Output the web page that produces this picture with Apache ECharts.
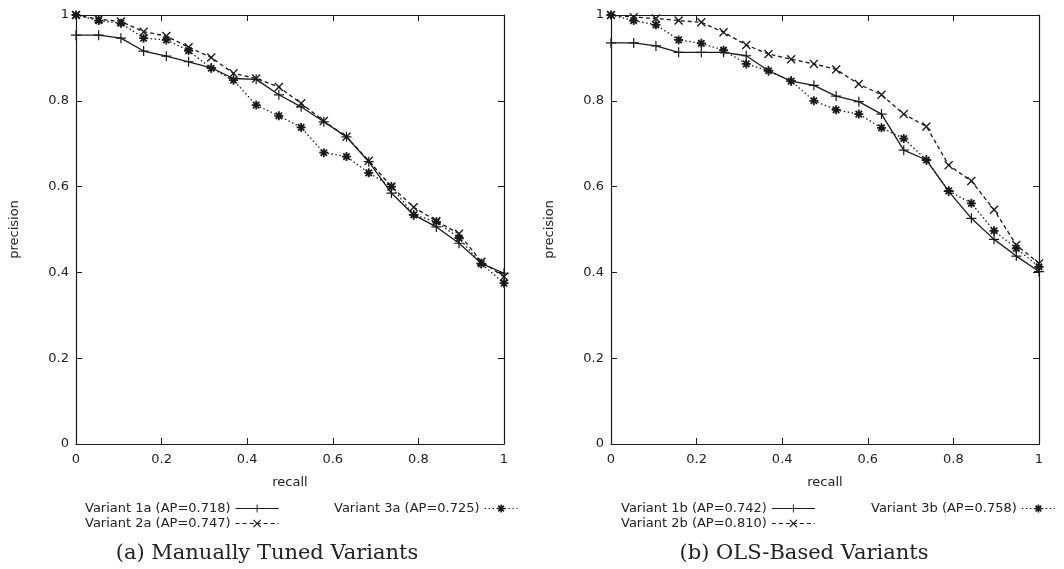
<!DOCTYPE html>
<html>
<head>
<meta charset="utf-8">
<script src="https://cdn.jsdelivr.net/npm/echarts@6/dist/echarts.min.js"></script>
<style>
html,body{margin:0;padding:0;background:#fff;}
#chart{width:1064px;height:569px;}
</style>
</head>
<body>
<div id="chart"></div>
<script>
// recall levels (20 points)
const recall = [0, 0.053, 0.105, 0.158, 0.211, 0.263, 0.316, 0.368, 0.421, 0.474,
                0.526, 0.579, 0.632, 0.684, 0.737, 0.789, 0.842, 0.895, 0.947, 1];

// (a) Manually tuned variants
const v1a = [0.953, 0.953, 0.946, 0.916, 0.904, 0.891, 0.877, 0.852, 0.850, 0.814,
             0.786, 0.751, 0.716, 0.658, 0.585, 0.534, 0.506, 0.468, 0.421, 0.398];
const v2a = [1.000, 0.990, 0.985, 0.961, 0.951, 0.925, 0.901, 0.864, 0.852, 0.832,
             0.794, 0.753, 0.716, 0.660, 0.600, 0.552, 0.520, 0.490, 0.425, 0.390];
const v3a = [1.000, 0.987, 0.981, 0.946, 0.942, 0.917, 0.876, 0.848, 0.790, 0.765,
             0.738, 0.679, 0.670, 0.632, 0.600, 0.534, 0.518, 0.480, 0.420, 0.375];

// (b) OLS-based variants
const v1b = [0.935, 0.935, 0.928, 0.913, 0.913, 0.913, 0.905, 0.870, 0.846, 0.836,
             0.811, 0.798, 0.769, 0.685, 0.662, 0.589, 0.526, 0.477, 0.438, 0.402];
const v2b = [1.000, 0.995, 0.992, 0.987, 0.983, 0.960, 0.930, 0.909, 0.897, 0.886,
             0.873, 0.839, 0.814, 0.769, 0.740, 0.650, 0.613, 0.546, 0.464, 0.421];
const v3b = [1.000, 0.987, 0.977, 0.942, 0.934, 0.918, 0.886, 0.870, 0.846, 0.800,
             0.779, 0.769, 0.737, 0.712, 0.662, 0.590, 0.561, 0.497, 0.456, 0.413];

const names = {
  v1a: 'Variant 1a (AP=0.718)', v2a: 'Variant 2a (AP=0.747)', v3a: 'Variant 3a (AP=0.725)',
  v1b: 'Variant 1b (AP=0.742)', v2b: 'Variant 2b (AP=0.810)', v3b: 'Variant 3b (AP=0.758)'
};
const captions = ['(a) Manually Tuned Variants', '(b) OLS-Based Variants'];

const PLUS = 'path://M-1.2,-10L1.2,-10L1.2,-1.2L10,-1.2L10,1.2L1.2,1.2L1.2,10L-1.2,10L-1.2,1.2L-10,1.2L-10,-1.2L-1.2,-1.2Z';
const CROSS = 'path://M-6.22,-7.92L-7.92,-6.22L-1.7,0L-7.92,6.22L-6.22,7.92L0,1.7L6.22,7.92L7.92,6.22L1.7,0L7.92,-6.22L6.22,-7.92L0,-1.7Z';
const STAR = 'path://M-2,-10L2,-10L2,-2L10,-2L10,2L2,2L2,10L-2,10L-2,2L-10,2L-10,-2L-2,-2Z M5.66,-8.49L8.49,-5.66L2.83,0L8.49,5.66L5.66,8.49L0,2.83L-5.66,8.49L-8.49,5.66L-2.83,0L-8.49,-5.66L-5.66,-8.49L0,-2.83Z';

const INK = '#1a1a1a';
const FONT = 'DejaVu Sans';

function pairs(vals) { return recall.map((r, i) => [r, vals[i]]); }

function mkSeries(name, vals, gi, kind) {
  const styles = {
    solid: { sym: PLUS, size: 10, type: 'solid' },
    dash: { sym: CROSS, size: 9, type: [4, 3] },
    dot: { sym: STAR, size: 9, type: [1.5, 2.5] }
  };
  const s = styles[kind];
  return {
    name: name, type: 'line', xAxisIndex: gi * 2, yAxisIndex: gi * 2,
    data: pairs(vals), symbol: s.sym, symbolSize: s.size, showSymbol: true,
    lineStyle: { color: INK, width: 1.3, type: s.type },
    itemStyle: { color: INK },
    animation: false, z: 3
  };
}

const gridLefts = [76, 611];
const grids = gridLefts.map(l => ({ left: l, top: 15, width: 428, height: 429, show: false }));

const AXLINE = { show: true, onZero: false, lineStyle: { color: INK, width: 1.2 } };
const TICK = { show: true, inside: true, length: 6, lineStyle: { color: INK } };
const xAxes = [], yAxes = [];
gridLefts.forEach((l, gi) => {
  xAxes.push({
    type: 'value', gridIndex: gi, min: 0, max: 1, interval: 0.2, position: 'bottom',
    name: 'recall', nameLocation: 'middle', nameGap: 32,
    nameTextStyle: { fontFamily: FONT, fontSize: 13, color: '#222' },
    axisLine: AXLINE, axisTick: TICK,
    axisLabel: { fontFamily: FONT, fontSize: 13, color: '#222', margin: 9 },
    splitLine: { show: false }
  });
  xAxes.push({
    type: 'value', gridIndex: gi, min: 0, max: 1, interval: 0.2, position: 'top',
    axisLine: AXLINE, axisTick: TICK,
    axisLabel: { show: false }, splitLine: { show: false }
  });
  yAxes.push({
    type: 'value', gridIndex: gi, min: 0, max: 1, interval: 0.2, position: 'left',
    name: 'precision', nameLocation: 'middle', nameGap: 55,
    nameTextStyle: { fontFamily: FONT, fontSize: 13, color: '#222' },
    axisLine: AXLINE, axisTick: TICK,
    axisLabel: { fontFamily: FONT, fontSize: 13, color: '#222', margin: 7 },
    splitLine: { show: false }
  });
  yAxes.push({
    type: 'value', gridIndex: gi, min: 0, max: 1, interval: 0.2, position: 'right',
    axisLine: AXLINE, axisTick: TICK,
    axisLabel: { show: false }, splitLine: { show: false }
  });
});

const series = [
  mkSeries(names.v1a, v1a, 0, 'solid'),
  mkSeries(names.v2a, v2a, 0, 'dash'),
  mkSeries(names.v3a, v3a, 0, 'dot'),
  mkSeries(names.v1b, v1b, 1, 'solid'),
  mkSeries(names.v2b, v2b, 1, 'dash'),
  mkSeries(names.v3b, v3b, 1, 'dot')
];

function mkLegend(data, left, width) {
  return {
    data: data, left: left, top: 502, orient: 'vertical', align: 'right',
    itemWidth: width, itemHeight: 10, itemGap: 2, padding: 0,
    lineStyle: { width: 1.2 },
    textStyle: { fontFamily: FONT, fontSize: 13, color: '#222' },
    selectedMode: false
  };
}

const legends = [
  mkLegend([names.v1a, names.v2a], 85, 43),
  mkLegend([names.v3a], 334, 33),
  mkLegend([names.v1b, names.v2b], 621, 43),
  mkLegend([names.v3b], 871, 33)
];

const titles = [
  { text: captions[0], left: 267, top: 543, textAlign: 'center', padding: 0,
    textStyle: { fontFamily: 'DejaVu Serif', fontSize: 21, fontWeight: 'normal', color: '#222' } },
  { text: captions[1], left: 804, top: 543, textAlign: 'center', padding: 0,
    textStyle: { fontFamily: 'DejaVu Serif', fontSize: 21, fontWeight: 'normal', color: '#222' } }
];

const chart = echarts.init(document.getElementById('chart'), null, { renderer: 'canvas' });
chart.setOption({
  backgroundColor: '#fff',
  animation: false,
  title: titles,
  grid: grids,
  xAxis: xAxes,
  yAxis: yAxes,
  legend: legends,
  series: series
});
</script>
</body>
</html>
